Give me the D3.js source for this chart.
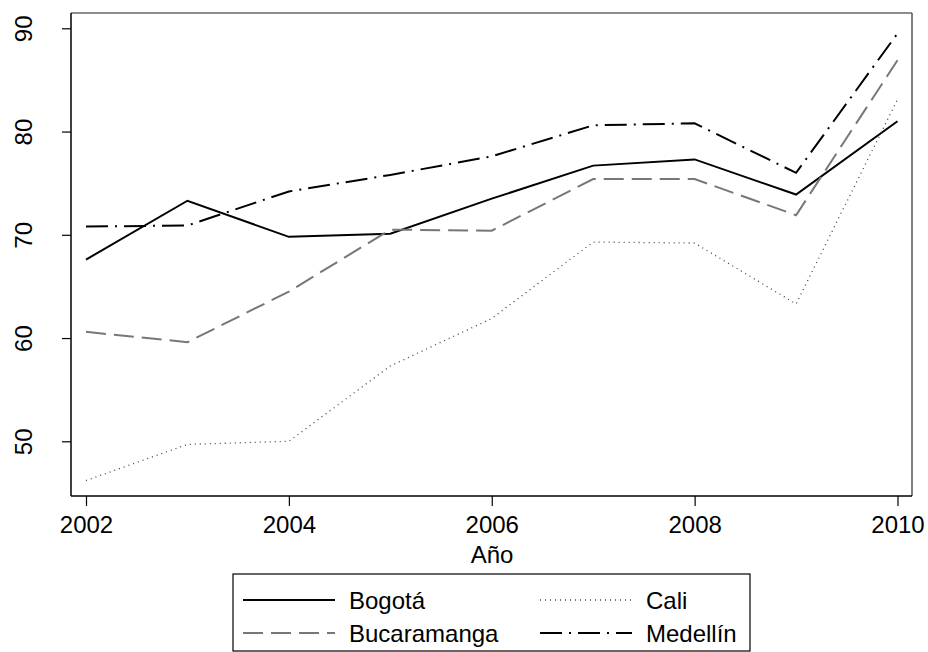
<!DOCTYPE html>
<html>
<head>
<meta charset="utf-8">
<script src="https://cdn.jsdelivr.net/npm/d3@7"></script>
<style>
  html, body { margin: 0; padding: 0; background: #fff; }
  svg { display: block; font-family: "Liberation Sans", Arial, Helvetica, sans-serif; }
</style>
</head>
<body>
<svg id="chart" width="928" height="652"></svg>
<script>
const years = [2002, 2003, 2004, 2005, 2006, 2007, 2008, 2009, 2010];
const bogota      = [67.6, 73.3, 69.8, 70.1, 73.5, 76.7, 77.3, 73.9, 81.0];
const bucaramanga = [60.6, 59.6, 64.5, 70.5, 70.4, 75.4, 75.4, 71.9, 86.9];
const cali        = [46.2, 49.7, 50.0, 57.3, 61.9, 69.3, 69.2, 63.3, 83.1];
const medellin    = [70.8, 70.9, 74.2, 75.8, 77.6, 80.6, 80.8, 76.0, 89.5];
const xTicks = [2002, 2004, 2006, 2008, 2010];
const yTicks = [50, 60, 70, 80, 90];
const seriesNames = ["Bogotá", "Bucaramanga", "Cali", "Medellín"];
const xTitle = "Año";

(function () {
  const series = [
    { name: seriesNames[0], values: bogota,      color: "#000", width: 2,   dash: null },
    { name: seriesNames[1], values: bucaramanga, color: "#777", width: 2,   dash: "20,8" },
    { name: seriesNames[2], values: cali,        color: "#444", width: 1.3, dash: "1,4" },
    { name: seriesNames[3], values: medellin,    color: "#000", width: 2,   dash: "22,7,2,7" }
  ];

  const svg = d3.select("#chart");
  const pL = 71, pR = 912, pT = 13, pB = 496;

  const x = d3.scaleLinear().domain([2002, 2010]).range([86, 897.5]);
  const y = d3.scaleLinear().domain([50, 90]).range([441.3, 28.3]);

  // plot region outline (top/right gray)
  svg.append("line").attr("x1", pL).attr("x2", pR).attr("y1", pT).attr("y2", pT)
    .attr("stroke", "#666").attr("stroke-width", 1.5);
  svg.append("line").attr("x1", pR).attr("x2", pR).attr("y1", pT).attr("y2", pB)
    .attr("stroke", "#555").attr("stroke-width", 1.5);

  // lines
  const line = d3.line().x((d, i) => x(years[i])).y(d => y(d));
  series.forEach(s => {
    svg.append("path")
      .datum(s.values)
      .attr("d", line)
      .attr("fill", "none")
      .attr("stroke", s.color)
      .attr("stroke-width", s.width)
      .attr("stroke-dasharray", s.dash)
      .attr("stroke-linejoin", "miter");
  });

  // Y axis
  const yAxis = svg.append("g").attr("transform", `translate(${pL},0)`)
    .call(d3.axisLeft(y).tickValues(yTicks).tickSize(9).tickSizeOuter(0).tickFormat(d3.format("d")));
  yAxis.select(".domain").remove();
  yAxis.selectAll(".tick line").attr("stroke", "#000").attr("stroke-width", 1.2);
  yAxis.selectAll(".tick text")
    .attr("x", null).attr("dy", null)
    .attr("transform", "translate(-39,0) rotate(-90)")
    .attr("text-anchor", "middle")
    .attr("font-size", 24)
    .attr("font-family", "Liberation Sans, Arial, sans-serif")
    .attr("fill", "#000");
  svg.append("line").attr("x1", pL).attr("x2", pL).attr("y1", pT).attr("y2", pB)
    .attr("stroke", "#000").attr("stroke-width", 1.5);

  // X axis
  const xAxis = svg.append("g").attr("transform", `translate(0,${pB})`)
    .call(d3.axisBottom(x).tickValues(xTicks).tickSize(10).tickSizeOuter(0).tickFormat(d3.format("d")));
  xAxis.select(".domain").remove();
  xAxis.selectAll(".tick line").attr("stroke", "#000").attr("stroke-width", 1.2);
  xAxis.selectAll(".tick text")
    .attr("y", 37).attr("dy", null)
    .attr("font-size", 24)
    .attr("font-family", "Liberation Sans, Arial, sans-serif")
    .attr("fill", "#000");
  svg.append("line").attr("x1", pL).attr("x2", pR).attr("y1", pB).attr("y2", pB)
    .attr("stroke", "#000").attr("stroke-width", 1.5);

  svg.append("text").attr("x", 492).attr("y", 563).attr("text-anchor", "middle")
    .attr("font-size", 24).text(xTitle);

  // Legend
  const lg = svg.append("g");
  lg.append("rect").attr("x", 233).attr("y", 574).attr("width", 517).attr("height", 77)
    .attr("fill", "#fff").attr("stroke", "#000").attr("stroke-width", 1.2);
  const cols = [243, 540];
  const rows = [600, 633];
  series.forEach((s, i) => {
    const col = (i === 0 || i === 1) ? 0 : 1;
    const row = (i === 0 || i === 2) ? 0 : 1;
    const sx = cols[col];
    const yy = rows[row];
    lg.append("line").attr("x1", sx).attr("x2", sx + 92).attr("y1", yy).attr("y2", yy)
      .attr("stroke", s.color).attr("stroke-width", s.width).attr("stroke-dasharray", s.dash);
    lg.append("text").attr("x", sx + 106).attr("y", yy + 8.5).attr("font-size", 24).text(s.name);
  });
})();
</script>
</body>
</html>
